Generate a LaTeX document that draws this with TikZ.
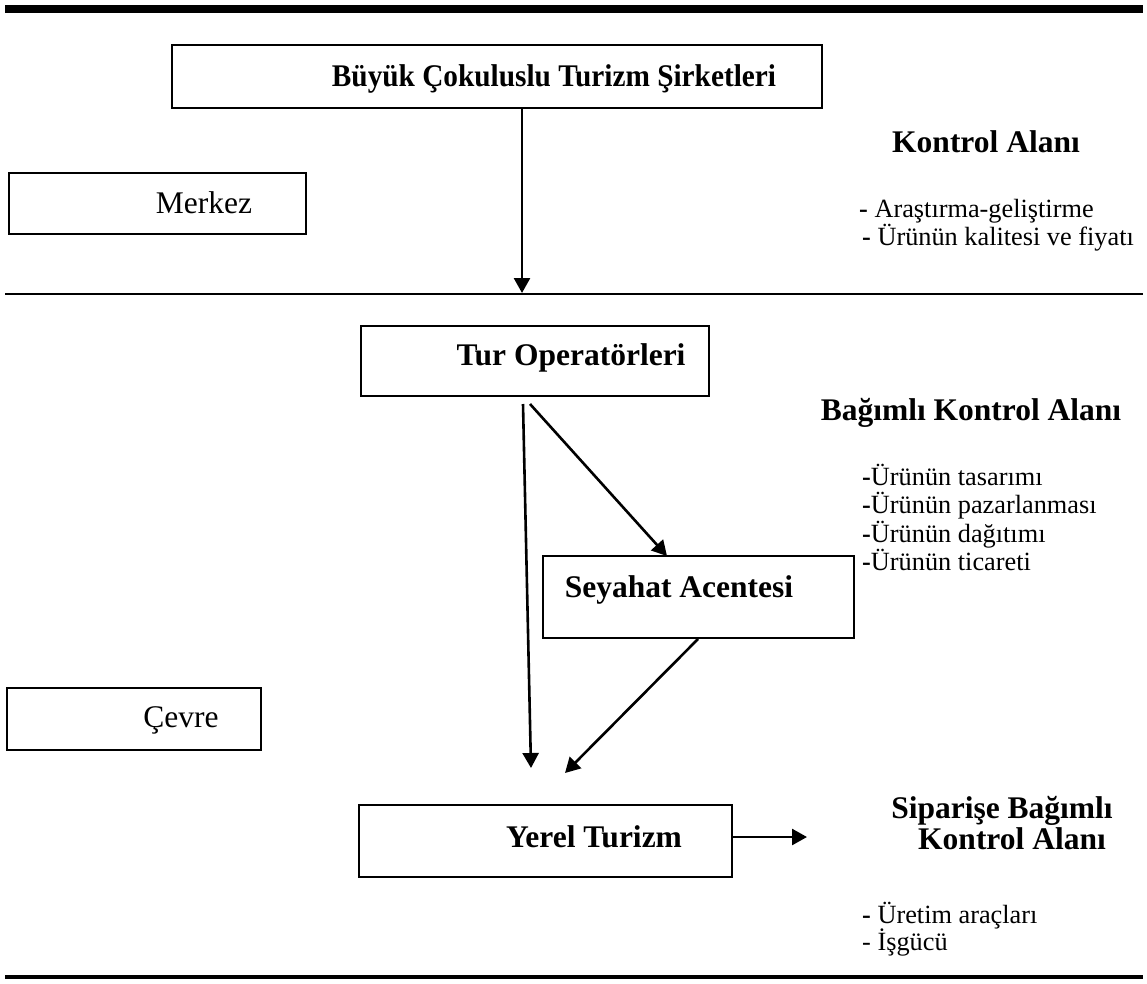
\documentclass[tikz,border=0pt]{standalone}
\usepackage{fontspec}
\usepackage{graphicx}
\setmainfont{Liberation Serif}
\usetikzlibrary{arrows.meta}
\newcommand{\headfont}{\fontsize{31.5}{37}\selectfont\bfseries}
\newcommand{\listfont}{\fontsize{26.3}{29}\selectfont}
\begin{document}
\begin{tikzpicture}[x=1pt,y=-1pt,
    box/.style={draw,line width=2pt,rectangle,inner sep=0pt},
    head/.style={inner sep=0pt,anchor=base,font=\headfont},
    plain/.style={inner sep=0pt,anchor=base,font=\fontsize{31.5}{37}\selectfont},
    item/.style={inner sep=0pt,anchor=base west,font=\listfont},
    arr/.style={line width=2.6pt,-{Triangle[length=15pt,width=16pt]}}]
  \useasboundingbox (0,0) rectangle (1147,983);
  \draw
    (497,76) node[box,minimum width=650pt,minimum height=63pt] (buyuk){}
    (157.5,203.5) node[box,minimum width=297pt,minimum height=61pt] (merkez){}
    (535,361) node[box,minimum width=348pt,minimum height=70pt] (turop){}
    (698.5,597) node[box,minimum width=311pt,minimum height=82pt] (seyahat){}
    (134,719) node[box,minimum width=254pt,minimum height=62pt] (cevre){}
    (545.5,841) node[box,minimum width=373pt,minimum height=72pt] (yerel){};
  \draw
    (554,86) node[head] (buyukt){\scalebox{0.93}[1]{Büyük Çokuluslu Turizm Şirketleri}}
    (204,213) node[plain] (merkezt){Merkez}
    (571,365) node[head] (turopt){Tur Operatörleri}
    (679,597) node[head] (seyahatt){Seyahat Acentesi}
    (181,727) node[plain] (cevret){Çevre}
    (594,847) node[head] (yerelt){Yerel Turizm};
  \draw
    (986,152) node[head] (kontrol){Kontrol Alanı}
    (859,217) node[item] (k1){\textbf{-} Araştırma-geliştirme}
    (862,245) node[item] (k2){\textbf{-} Ürünün kalitesi ve fiyatı}
    (971,420) node[head] (bagimli){Bağımlı Kontrol Alanı}
    (862,485) node[item] (b1){\textbf{-}Ürünün tasarımı}
    (862,513) node[item] (b2){\textbf{-}Ürünün pazarlanması}
    (862,542) node[item] (b3){\textbf{-}Ürünün dağıtımı}
    (862,570) node[item] (b4){\textbf{-}Ürünün ticareti}
    (1002,818) node[head] (siparis){Siparişe Bağımlı}
    (1012,849) node[head] (siparis2){Kontrol Alanı}
    (862,923) node[item] (s1){\textbf{-} Üretim araçları}
    (862,950) node[item] (s2){- İşgücü};
  \coordinate (topl) at (5,8.5);
  \coordinate (topr) at (1143,8.5);
  \coordinate (midl) at (5,294);
  \coordinate (midr) at (1143,294);
  \coordinate (botl) at (5,977);
  \coordinate (botr) at (1143,977);
  \coordinate (midhit) at (522,293);
  \coordinate (turA) at (523,404);
  \coordinate (turB) at (530,404);
  \coordinate (yerelhitA) at (531,768);
  \coordinate (seyahathit) at (667,556);
  \coordinate (seyahatout) at (698,639);
  \coordinate (yerelhitB) at (565,773);
  \coordinate (yerelout) at (807,837);
  \draw[line width=8pt] (topl) -- (topr);
  \draw[line width=2.5pt] (midl) -- (midr);
  \draw[line width=4pt] (botl) -- (botr);
  \begin{scope}[arr]
    \draw (buyuk.south -| midhit) to (midhit);
    \draw (turA) to (yerelhitA);
    \draw (turB) to (seyahathit);
    \draw (seyahatout) to (yerelhitB);
    \draw (yerel.east |- yerelout) to (yerelout);
  \end{scope}
\end{tikzpicture}
\end{document}
